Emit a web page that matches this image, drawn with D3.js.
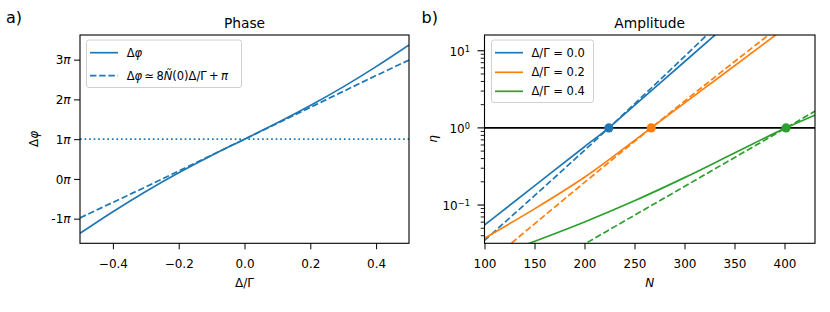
<!DOCTYPE html>
<html>
<head>
<meta charset="utf-8">
<script src="https://cdn.jsdelivr.net/npm/d3@7"></script>
<style>
  body { margin: 0; background: #fff; }
  text { font-family: "DejaVu Sans", sans-serif; fill: #000; }
</style>
</head>
<body>
<div id="fig"></div>
<script>
// ---- data: panel a (phase, in units of pi) ----
const detuning = [-0.5, -0.4, -0.3, -0.2, -0.1, 0, 0.1, 0.2, 0.3, 0.4, 0.5];
const phaseExact = [-1.37, -0.825, -0.315, 0.155, 0.59, 1.0, 1.41, 1.845, 2.315, 2.825, 3.37];
const phaseApprox = [-0.98, -0.59, -0.2, 0.2, 0.6, 1.0, 1.4, 1.8, 2.2, 2.6, 2.99];
const phaseTicks = [-1, 0, 1, 2, 3];
const detTicks = [-0.4, -0.2, 0, 0.2, 0.4];

// ---- data: panel b (amplitude) ----
const ratios = ["0.0", "0.2", "0.4"];
const colors = ["#1f77b4", "#ff7f0e", "#2ca02c"];
const exactN0 = [100, 150, 200, 224.3, 250, 300, 340];
const exactEta0 = [0.055, 0.177, 0.57, 1.0, 1.96, 7.2, 20.5];
const exactN1 = [100, 150, 200, 266.7, 330, 400];
const exactEta1 = [0.0372, 0.0891, 0.229, 1.0, 4.09, 19.5];
const exactN2 = [140, 200, 250, 300, 350, 401.5, 435];
const exactEta2 = [0.0302, 0.0603, 0.1135, 0.2265, 0.473, 1.0, 1.549];
const approxN0 = [100, 224.3, 340];
const approxEta0 = [0.0347, 1.0, 26.4];
const approxN1 = [120, 266.7, 400];
const approxEta1 = [0.027, 1.0, 23.3];
const approxN2 = [195, 401.5, 435];
const approxEta2 = [0.0286, 1.0, 1.78];
const thresholdN = [224.3, 266.7, 401.5];
const nTicks = [100, 150, 200, 250, 300, 350, 400];

const svg = d3.select("#fig").append("svg").attr("width", 830).attr("height", 312);

// ---------- panel a ----------
const xL = d3.scaleLinear().domain([-0.5, 0.5]).range([80, 409]);
const yL = d3.scaleLinear().domain([-1.62, 3.62]).range([243.3, 35]);

svg.append("clipPath").attr("id", "clipA").append("rect")
  .attr("x", 80).attr("y", 35).attr("width", 329).attr("height", 208.3);

let ga = svg.append("g").attr("clip-path", "url(#clipA)");
ga.append("line").attr("x1", 80).attr("x2", 409)
  .attr("y1", yL(1)).attr("y2", yL(1))
  .attr("stroke", colors[0]).attr("stroke-width", 1.7).attr("stroke-dasharray", "1.7,2.85");

let lineA = d3.line().x((d, i) => xL(detuning[i])).y(d => yL(d)).curve(d3.curveMonotoneX);
ga.append("path").attr("d", lineA(phaseExact)).attr("fill", "none")
  .attr("stroke", colors[0]).attr("stroke-width", 1.7);
ga.append("path").attr("d", lineA(phaseApprox)).attr("fill", "none")
  .attr("stroke", colors[0]).attr("stroke-width", 1.7).attr("stroke-dasharray", "6.4,2.8");

let axA = svg.append("g").attr("transform", "translate(0,243.3)")
  .call(d3.axisBottom(xL).tickValues(detTicks).tickSize(6).tickFormat(d3.format(".1f")));
axA.select(".domain").remove();
axA.selectAll("text").attr("y", 25).attr("dy", 0).style("font-size", "12px");

let ayA = svg.append("g").attr("transform", "translate(80,0)")
  .call(d3.axisLeft(yL).tickValues(phaseTicks).tickSize(6).tickPadding(3.5).tickFormat(""));
ayA.select(".domain").remove();
ayA.selectAll(".tick").append("text")
  .attr("x", -9.5).attr("dy", "0.35em").attr("text-anchor", "end")
  .style("font-size", "12px").attr("fill", "#000")
  .each(function (d) {
    let t = d3.select(this);
    t.append("tspan").text(String(d));
    t.append("tspan").attr("font-style", "italic").text("π");
  });

svg.append("rect").attr("x", 80).attr("y", 35).attr("width", 329).attr("height", 208.3)
  .attr("fill", "none").attr("stroke", "#000").attr("stroke-width", 1.1);

// legend a
svg.append("rect").attr("x", 86.5).attr("y", 40).attr("width", 155).attr("height", 47.5)
  .attr("rx", 2.5).attr("fill", "#fff").attr("fill-opacity", 0.8)
  .attr("stroke", "#d0d0d0").attr("stroke-width", 1);
svg.append("line").attr("x1", 90).attr("x2", 118).attr("y1", 52.7).attr("y2", 52.7)
  .attr("stroke", colors[0]).attr("stroke-width", 1.7);
svg.append("line").attr("x1", 90).attr("x2", 118).attr("y1", 75.7).attr("y2", 75.7)
  .attr("stroke", colors[0]).attr("stroke-width", 1.7).attr("stroke-dasharray", "6.4,2.8");
let la1 = svg.append("text").attr("x", 126.7).attr("y", 56.8).style("font-size", "11.5px");
la1.append("tspan").text("Δ");
la1.append("tspan").attr("font-style", "italic").text("φ");
let la2 = svg.append("text").attr("x", 126.7).attr("y", 79.8).style("font-size", "11.5px");
la2.append("tspan").text("Δ");
la2.append("tspan").attr("font-style", "italic").text("φ");
la2.append("tspan").text("\u2009≃\u20098");
la2.append("tspan").attr("font-style", "italic").text("Ñ");
la2.append("tspan").text("(0)Δ/Γ\u2009+\u2009");
la2.append("tspan").attr("font-style", "italic").text("π");

svg.append("text").attr("x", 244.5).attr("y", 28).attr("text-anchor", "middle")
  .style("font-size", "13.8px").text("Phase");
svg.append("text").attr("x", 244.5).attr("y", 286.5).attr("text-anchor", "middle")
  .style("font-size", "12px").text("Δ/Γ");
let ylA = svg.append("text").attr("transform", "translate(37.5,139) rotate(-90)")
  .attr("text-anchor", "middle").style("font-size", "12px");
ylA.append("tspan").text("Δ");
ylA.append("tspan").attr("font-style", "italic").text("φ");
svg.append("text").attr("x", 6).attr("y", 22.5).style("font-size", "16px").text("a)");

// ---------- panel b ----------
const xR = d3.scaleLinear().domain([100, 430.5]).range([484.5, 815]);
const yR = d3.scaleLog().domain([0.0319, 16]).range([243.3, 35]);

svg.append("clipPath").attr("id", "clipB").append("rect")
  .attr("x", 484.5).attr("y", 35).attr("width", 330.5).attr("height", 208.3);
let gb = svg.append("g").attr("clip-path", "url(#clipB)");

const exactN = [exactN0, exactN1, exactN2];
const exactEta = [exactEta0, exactEta1, exactEta2];
const approxN = [approxN0, approxN1, approxN2];
const approxEta = [approxEta0, approxEta1, approxEta2];

function ampLine(ns, etas) {
  return d3.line().x((d, i) => xR(ns[i])).y(d => yR(d)).curve(d3.curveMonotoneX)(etas);
}

gb.append("line").attr("x1", 484.5).attr("x2", 815).attr("y1", yR(1)).attr("y2", yR(1))
  .attr("stroke", "#000").attr("stroke-width", 1.7);

ratios.forEach((r, k) => {
  gb.append("path").attr("d", ampLine(exactN[k], exactEta[k])).attr("fill", "none")
    .attr("stroke", colors[k]).attr("stroke-width", 1.7);
  gb.append("path").attr("d", ampLine(approxN[k], approxEta[k])).attr("fill", "none")
    .attr("stroke", colors[k]).attr("stroke-width", 1.7).attr("stroke-dasharray", "6.4,2.8");
  gb.append("circle").attr("cx", xR(thresholdN[k])).attr("cy", yR(1)).attr("r", 4.6)
    .attr("fill", colors[k]);
});

let axB = svg.append("g").attr("transform", "translate(0,243.3)")
  .call(d3.axisBottom(xR).tickValues(nTicks).tickSize(6).tickFormat(d3.format("d")));
axB.select(".domain").remove();
axB.selectAll("text").attr("y", 25).attr("dy", 0).style("font-size", "12px");

// log axis: major and minor ticks
let minorVals = [];
[-2, -1, 0, 1].forEach(e => {
  for (let m = 2; m <= 9; m++) {
    let v = m * Math.pow(10, e);
    if (v >= 0.0319 && v <= 16) minorVals.push(v);
  }
});
let ayB = svg.append("g").attr("transform", "translate(484.5,0)");
ayB.selectAll(".minor").data(minorVals).join("line")
  .attr("x1", -3.8).attr("x2", 0).attr("y1", d => yR(d)).attr("y2", d => yR(d))
  .attr("stroke", "#000").attr("stroke-width", 0.9);
let majors = ayB.selectAll(".major").data([-1, 0, 1]).join("g")
  .attr("transform", d => "translate(0," + yR(Math.pow(10, d)) + ")");
majors.append("line").attr("x1", -7).attr("x2", 0).attr("stroke", "#000").attr("stroke-width", 1.1);
majors.append("text").attr("x", -14.5).attr("dy", "0.4em").attr("text-anchor", "end")
  .style("font-size", "12px")
  .each(function (d) {
    let t = d3.select(this);
    t.append("tspan").text("10");
    t.append("tspan").attr("dy", "-0.45em").style("font-size", "8.3px")
      .text(d < 0 ? "−" + Math.abs(d) : String(d));
  });

svg.append("rect").attr("x", 484.5).attr("y", 35).attr("width", 330.5).attr("height", 208.3)
  .attr("fill", "none").attr("stroke", "#000").attr("stroke-width", 1.1);

// legend b
svg.append("rect").attr("x", 491.5).attr("y", 40).attr("width", 102).attr("height", 62.5)
  .attr("rx", 2.5).attr("fill", "#fff").attr("fill-opacity", 0.8)
  .attr("stroke", "#d0d0d0").attr("stroke-width", 1);
const legRows = [52.7, 72.3, 91.3];
ratios.forEach((r, k) => {
  svg.append("line").attr("x1", 495).attr("x2", 523).attr("y1", legRows[k]).attr("y2", legRows[k])
    .attr("stroke", colors[k]).attr("stroke-width", 1.7);
  svg.append("text").attr("x", 531.5).attr("y", legRows[k] + 4.1).style("font-size", "11.5px")
    .text("Δ/Γ = " + r);
});

svg.append("text").attr("x", 649.7).attr("y", 28).attr("text-anchor", "middle")
  .style("font-size", "13.8px").text("Amplitude");
svg.append("text").attr("x", 649.7).attr("y", 286.5).attr("text-anchor", "middle")
  .style("font-size", "12px").attr("font-style", "italic").text("N");
svg.append("text").attr("transform", "translate(437,139) rotate(-90)")
  .attr("text-anchor", "middle").style("font-size", "12px").attr("font-style", "italic").text("η");
svg.append("text").attr("x", 421.5).attr("y", 22.5).style("font-size", "16px").text("b)");
</script>
</body>
</html>
